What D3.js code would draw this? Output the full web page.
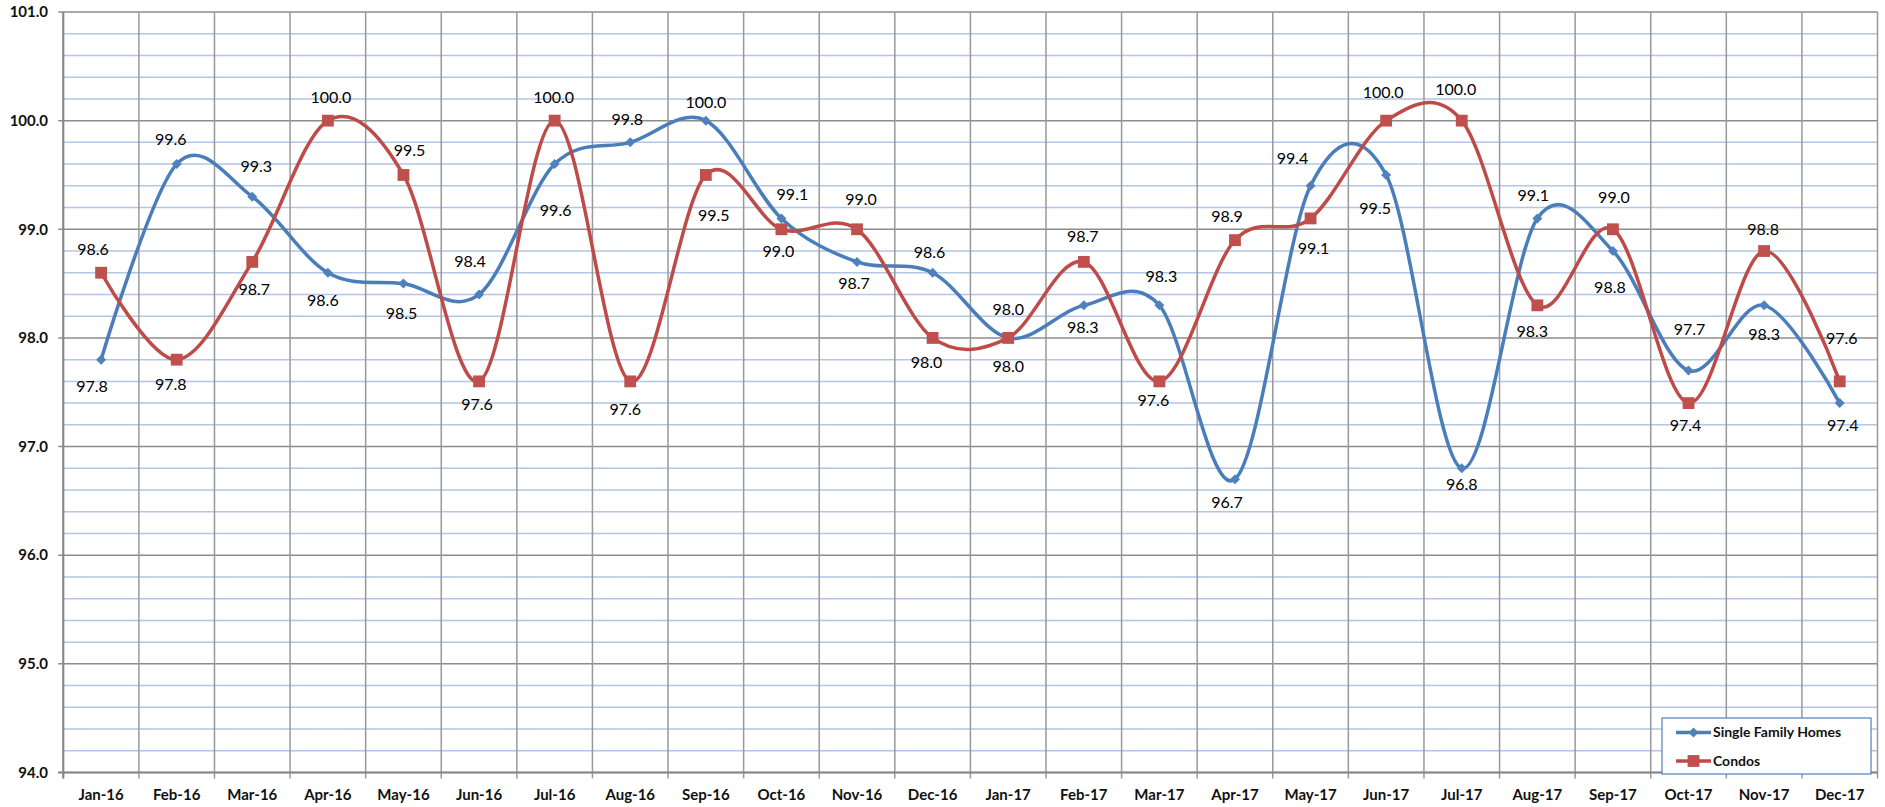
<!DOCTYPE html>
<html>
<head>
<meta charset="utf-8">
<script src="https://cdnjs.cloudflare.com/ajax/libs/d3/7.8.5/d3.min.js"></script>
<style>
  body { margin: 0; background: #fff; }
  text { font-family: Lato, "Open Sans", sans-serif; }
</style>
</head>
<body>
<div id="svg-area"></div>
<script>
// data
var months = ["Jan-16","Feb-16","Mar-16","Apr-16","May-16","Jun-16","Jul-16","Aug-16","Sep-16","Oct-16","Nov-16","Dec-16",
              "Jan-17","Feb-17","Mar-17","Apr-17","May-17","Jun-17","Jul-17","Aug-17","Sep-17","Oct-17","Nov-17","Dec-17"];
var singleFamily = [97.8, 99.6, 99.3, 98.6, 98.5, 98.4, 99.6, 99.8, 100.0, 99.1, 98.7, 98.6,
                    98.0, 98.3, 98.3, 96.7, 99.4, 99.5, 96.8, 99.1, 98.8, 97.7, 98.3, 97.4];
var condos = [98.6, 97.8, 98.7, 100.0, 99.5, 97.6, 100.0, 97.6, 99.5, 99.0, 99.0, 98.0,
              98.0, 98.7, 97.6, 98.9, 99.1, 100.0, 100.0, 98.3, 99.0, 97.4, 98.8, 97.6];
var yTicks = [94, 95, 96, 97, 98, 99, 100, 101];

// label offsets (px) from each point, as placed in the original
var sfhLabelOff = [[-9,27],[-6,-25],[4,-30],[-5,28],[-2,30],[-9,-33],[1,46],[-3,-23],[0,-18],[11,-24],[-3,22],[-3,-20],
                   [0,-29],[-1,22],[2,-29],[-8,23],[-18,-27],[-11,33],[0,16],[-4,-23],[-3,36],[1,-41],[0,29],[3,22]];
var condoLabelOff = [[-8,-23],[-6,25],[2,28],[3,-23],[6,-25],[-2,23],[-1,-23],[-5,28],[8,40],[-3,22],[4,-30],[-6,24],
                     [0,28],[-1,-25],[-6,19],[-8,-24],[3,30],[-3,-28],[-6,-31],[-5,26],[1,-32],[-3,22],[-1,-22],[2,-43]];

var width = 1885;
var height = 807;
var plot = { left: 63.3, right: 1877.5, top: 12, bottom: 772.5 };

var svg = d3.select("#svg-area").append("svg").attr("width", width).attr("height", height);

var xScale = d3.scaleBand().domain(months).range([plot.left, plot.right]).padding(0);
var yScale = d3.scaleLinear().domain([94, 101]).range([plot.bottom, plot.top]);
var cx = function(i) { return xScale(months[i]) + xScale.bandwidth() / 2; };

// minor gridlines every 0.2
var minor = d3.range(94.2, 101, 0.2).filter(function(v) { return Math.abs(v - Math.round(v)) > 0.05; });
svg.append("g").selectAll("line").data(minor).enter().append("line")
    .attr("x1", plot.left).attr("x2", plot.right)
    .attr("y1", function(d) { return yScale(d); }).attr("y2", function(d) { return yScale(d); })
    .attr("stroke", "#b3c6e4").attr("stroke-width", 1.5);

// major gridlines
svg.append("g").selectAll("line").data(yTicks).enter().append("line")
    .attr("x1", plot.left - 5).attr("x2", plot.right)
    .attr("y1", function(d) { return yScale(d); }).attr("y2", function(d) { return yScale(d); })
    .attr("stroke", "#8c8c8c").attr("stroke-width", 1.5);

// vertical gridlines at category boundaries
var bounds = months.map(function(m) { return xScale(m); }).concat([plot.right]);
svg.append("g").selectAll("line").data(bounds).enter().append("line")
    .attr("x1", function(d) { return d; }).attr("x2", function(d) { return d; })
    .attr("y1", plot.top).attr("y2", plot.bottom + 6)
    .attr("stroke", "#999").attr("stroke-width", 1.5);

// axis lines
svg.append("line").attr("x1", plot.left).attr("x2", plot.left).attr("y1", plot.top).attr("y2", plot.bottom + 6)
    .attr("stroke", "#888").attr("stroke-width", 2);
svg.append("line").attr("x1", plot.left - 5).attr("x2", plot.right).attr("y1", plot.bottom).attr("y2", plot.bottom)
    .attr("stroke", "#888").attr("stroke-width", 2);

// y tick labels
svg.append("g").selectAll("text").data(yTicks).enter().append("text")
    .attr("x", 48).attr("y", function(d) { return yScale(d); })
    .attr("dy", "0.35em").attr("text-anchor", "end")
    .attr("font-size", "15px").attr("font-weight", "bold").attr("fill", "#111")
    .text(function(d) { return d.toFixed(1); });

// x tick labels
svg.append("g").selectAll("text").data(months).enter().append("text")
    .attr("x", function(d) { return xScale(d) + xScale.bandwidth() / 2; }).attr("y", 795)
    .attr("dy", "0.35em").attr("text-anchor", "middle")
    .attr("font-size", "15px").attr("font-weight", "bold").attr("fill", "#111")
    .text(function(d) { return d; });

// series (diamond = square turned 45 degrees)
var series = [
    { name: "Single Family Homes", values: singleFamily, color: "#4a7ebb", marker: "#4f81bd", size: 50, rot: 45, off: sfhLabelOff },
    { name: "Condos", values: condos, color: "#be4b48", marker: "#c0504d", size: 140, rot: 0, off: condoLabelOff }
];

var line = d3.line()
    .x(function(d, i) { return cx(i); })
    .y(function(d) { return yScale(d); })
    .curve(d3.curveCardinal.tension(0));

series.forEach(function(s) {
    svg.append("path")
        .datum(s.values)
        .attr("fill", "none")
        .attr("stroke", s.color)
        .attr("stroke-width", 3.5)
        .attr("d", line);
});

series.forEach(function(s) {
    svg.append("g").selectAll("path").data(s.values).enter().append("path")
        .attr("d", d3.symbol().type(d3.symbolSquare).size(s.size))
        .attr("transform", function(d, i) { return "translate(" + cx(i) + "," + yScale(d) + ") rotate(" + s.rot + ")"; })
        .attr("fill", s.marker);
});

// data labels
series.forEach(function(s) {
    svg.append("g").selectAll("text").data(s.values).enter().append("text")
        .attr("x", function(d, i) { return cx(i) + s.off[i][0]; })
        .attr("y", function(d, i) { return yScale(d) + s.off[i][1]; })
        .attr("dy", "0.35em").attr("text-anchor", "middle")
        .attr("font-size", "16px").attr("fill", "#000")
        .text(function(d) { return d.toFixed(1); });
});

// legend
var legend = svg.append("g").attr("transform", "translate(1662,718)");
legend.append("rect").attr("width", 209).attr("height", 56)
    .attr("fill", "#fff").attr("stroke", "#4f81bd").attr("stroke-width", 1.2);
series.forEach(function(s, i) {
    var ly = 14.5 + i * 28.5;
    legend.append("line").attr("x1", 14).attr("x2", 49).attr("y1", ly).attr("y2", ly)
        .attr("stroke", s.color).attr("stroke-width", 3.5);
    legend.append("path").attr("d", d3.symbol().type(d3.symbolSquare).size(s.size))
        .attr("transform", "translate(31.5," + ly + ") rotate(" + s.rot + ")").attr("fill", s.marker);
    legend.append("text").attr("x", 51).attr("y", ly).attr("dy", "0.35em")
        .attr("font-size", "14px").attr("font-weight", "bold").attr("fill", "#111")
        .text(s.name);
});
</script>
</body>
</html>
